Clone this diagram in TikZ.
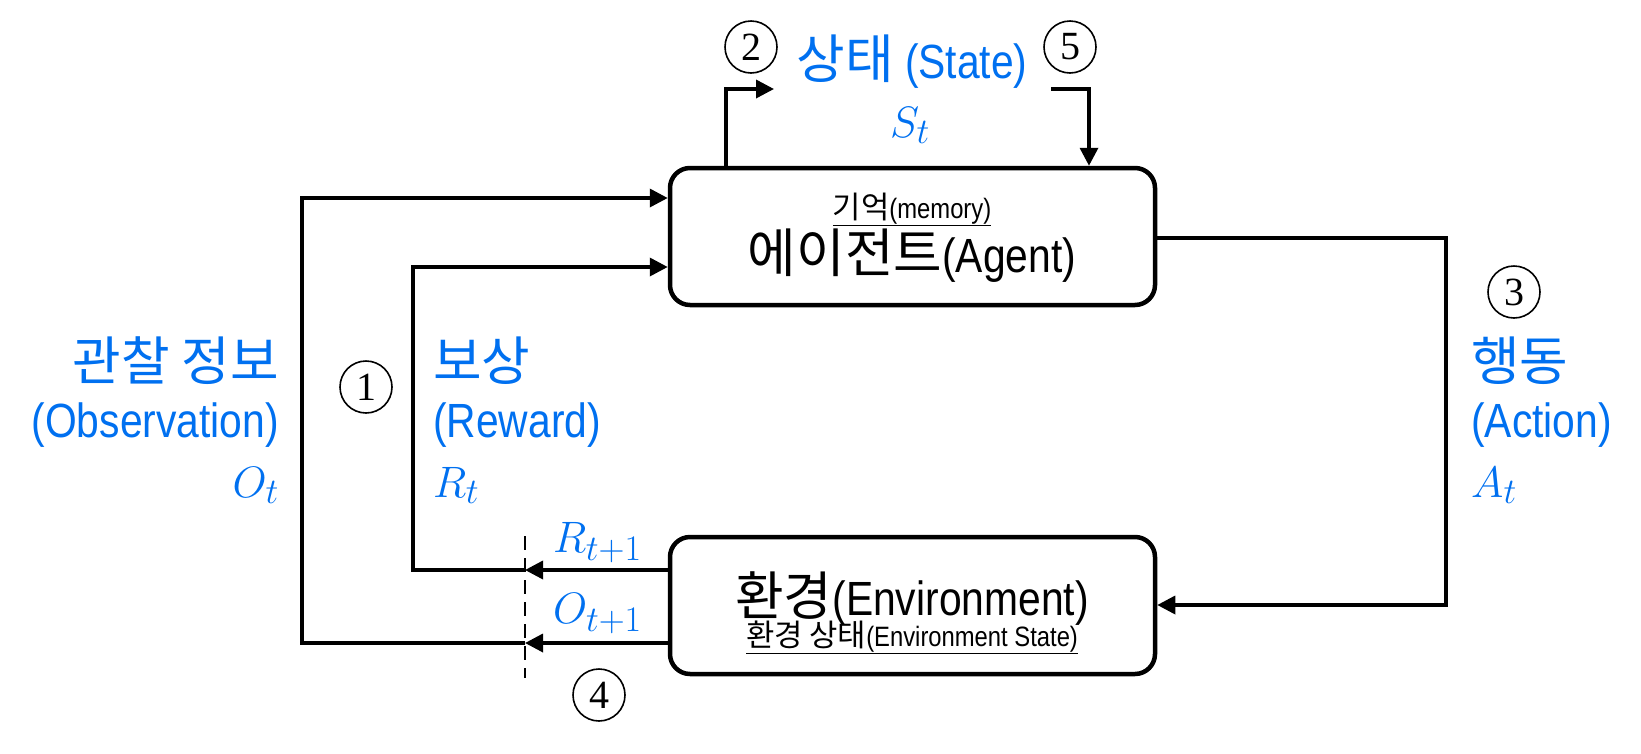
\RequirePackage{fix-cm}
\documentclass[tikz,border=0pt]{standalone}
\usepackage[no-math]{fontspec}
\setmainfont{Liberation Sans}[FakeStretch=0.85]
\newfontfamily\krfont{Noto Sans CJK KR}[Scale=1.1]
\newfontfamily\numfont{Liberation Serif}
\usetikzlibrary{arrows.meta}
\DeclareMathSizes{44}{44}{36}{28}
\definecolor{lbl_blue}{RGB}{0, 112, 240}
\newcommand{\kr}[1]{{\krfont #1}}
\tikzstyle{blk}=[rectangle,rounded corners=20pt,draw=black,line width=4.5pt,
  minimum width=485pt,minimum height=137pt,inner sep=0pt]
\tikzstyle{num}=[circle,draw=black,line width=1.6pt,minimum size=52pt,
  inner sep=0pt,font=\numfont\fontsize{40}{40}\selectfont]
\tikzstyle{big}=[font=\fontsize{48}{56}\selectfont,inner sep=0pt,anchor=base]
\tikzstyle{small}=[font=\fontsize{28}{32}\selectfont,inner sep=0pt,anchor=base]
\tikzstyle{lbl}=[font=\fontsize{48}{56}\selectfont,text=lbl_blue,inner sep=0pt]
\tikzstyle{sym}=[font=\fontsize{44}{50}\selectfont,text=lbl_blue,inner sep=0pt]
\tikzstyle{flow}=[line width=3.5pt,-{Triangle[length=18pt,width=18pt]}]
\tikzstyle{cut}=[line width=2.5pt,dash pattern=on 14pt off 8pt]
\tikzstyle{none}=[inner sep=0pt]

\begin{document}
\begin{tikzpicture}[x=1pt, y=-1pt]
		\useasboundingbox (0, 0) rectangle (1641, 753);
		\node [style=blk] (0) at (912.5, 236.5) {};
		\node [style=blk] (1) at (912.5, 605.5) {};
		\node [style=small] (2) at (912, 218) {\underline{\kr{기억}(memory)}};
		\node [style=big] (3) at (912, 272) {\kr{에이전트}(Agent)};
		\node [style=big] (4) at (912, 615) {\kr{환경}(Environment)};
		\node [style=small] (5) at (912, 646) {\underline{\kr{환경 상태}(Environment State)}};
		\node [style=num] (6) at (366, 387) {1};
		\node [style=num] (7) at (751, 47) {2};
		\node [style=num] (8) at (1514, 292) {3};
		\node [style=num] (9) at (599, 695) {4};
		\node [style=num] (10) at (1070, 47) {5};
		\node [style=lbl, anchor=base] (11) at (912, 78) {\kr{상태} (State)};
		\node [style=sym, anchor=base] (12) at (910, 137) {$S_t$};
		\node [style=lbl, anchor=base east] (13) at (279, 380) {\kr{관찰 정보}};
		\node [style=lbl, anchor=base east] (14) at (279, 437) {(Observation)};
		\node [style=sym, anchor=base east] (15) at (279, 497) {$O_t$};
		\node [style=lbl, anchor=base west] (16) at (433, 380) {\kr{보상}};
		\node [style=lbl, anchor=base west] (17) at (433, 437) {(Reward)};
		\node [style=sym, anchor=base west] (18) at (433, 497) {$R_t$};
		\node [style=lbl, anchor=base west] (19) at (1471, 380) {\kr{행동}};
		\node [style=lbl, anchor=base west] (20) at (1471, 437) {(Action)};
		\node [style=sym, anchor=base west] (21) at (1471, 497) {$A_t$};
		\node [style=sym, anchor=base west] (22) at (553, 552) {$R_{t+1}$};
		\node [style=sym, anchor=base west] (23) at (553, 623) {$O_{t+1}$};
		\node [style=none] (30) at (726, 89) {};
		\node [style=none] (31) at (774, 89) {};
		\node [style=none] (32) at (1051, 89) {};
		\node [style=none] (33) at (1089, 89) {};
		\node [style=none] (34) at (1446, 238) {};
		\node [style=none] (35) at (1446, 605) {};
		\node [style=none] (36) at (525, 570) {};
		\node [style=none] (37) at (413, 570) {};
		\node [style=none] (38) at (413, 267) {};
		\node [style=none] (39) at (525, 643) {};
		\node [style=none] (40) at (302, 643) {};
		\node [style=none] (41) at (302, 198) {};
		\node [style=none] (42) at (525, 536) {};
		\node [style=none] (43) at (525, 678) {};
		\draw [style=flow] (0.north -| 30.center) -- (30.center) -- (31.center);
		\draw [style=flow] (32.center) -- (33.center) -- (0.north -| 33.center);
		\draw [style=flow] (0.east |- 34.center) -- (34.center) -- (35.center) -- (1.east |- 35.center);
		\draw [style=flow] (1.west |- 36.center) -- (36.center);
		\draw [style=flow] (36.center) -- (37.center) -- (38.center) -- (0.west |- 38.center);
		\draw [style=flow] (1.west |- 39.center) -- (39.center);
		\draw [style=flow] (39.center) -- (40.center) -- (41.center) -- (0.west |- 41.center);
		\draw [style=cut] (42.center) -- (43.center);
\end{tikzpicture}
\end{document}
